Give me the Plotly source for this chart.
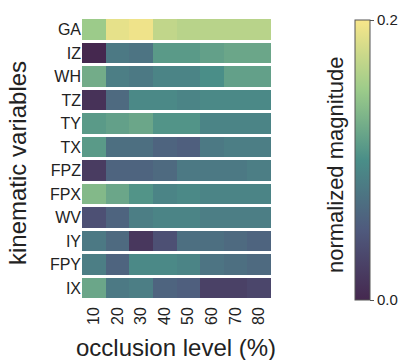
import plotly.graph_objects as go

variables = ["GA", "IZ", "WH", "TZ", "TY", "TX", "FPZ", "FPX", "WV", "IY", "FPY", "IX"]
occlusion = ["10", "20", "30", "40", "50", "60", "70", "80"]

GA = [0.15, 0.19, 0.195, 0.17, 0.165, 0.165, 0.165, 0.165]
IZ = [0.0, 0.08, 0.075, 0.11, 0.11, 0.115, 0.12, 0.12]
WH = [0.125, 0.085, 0.08, 0.09, 0.09, 0.1, 0.115, 0.115]
TZ = [0.01, 0.065, 0.095, 0.095, 0.09, 0.095, 0.095, 0.095]
TY = [0.11, 0.115, 0.12, 0.105, 0.105, 0.09, 0.09, 0.09]
TX = [0.11, 0.07, 0.07, 0.06, 0.055, 0.08, 0.085, 0.085]
FPZ = [0.02, 0.06, 0.06, 0.065, 0.08, 0.08, 0.08, 0.085]
FPX = [0.135, 0.12, 0.105, 0.09, 0.095, 0.09, 0.09, 0.09]
WV = [0.04, 0.06, 0.085, 0.09, 0.09, 0.085, 0.085, 0.085]
IY = [0.08, 0.065, 0.015, 0.04, 0.07, 0.07, 0.065, 0.06]
FPY = [0.085, 0.06, 0.095, 0.095, 0.09, 0.075, 0.07, 0.065]
IX = [0.12, 0.08, 0.085, 0.06, 0.055, 0.025, 0.025, 0.03]

z = [GA, IZ, WH, TZ, TY, TX, FPZ, FPX, WV, IY, FPY, IX]

colorscale = [
    [0.0, "#45284f"],
    [0.25, "#4f5a7d"],
    [0.5, "#4a8e88"],
    [0.75, "#9ccb8a"],
    [1.0, "#f8e68a"],
]

W, H = 401, 360
L, R, T, B = 82, 401 - 271, 18, 360 - 300
PW, PH = W - L - R, H - T - B


def px_x(x):
    return (x - L) / PW


def px_y(y):
    return 1 - (y - T) / PH


fig = go.Figure(go.Heatmap(
    z=z, x=occlusion, y=variables,
    zmin=0, zmax=0.2,
    colorscale=colorscale,
    ygap=3,
    colorbar=dict(
        x=px_x(355), xanchor="left", xpad=0, ypad=0,
        y=px_y(160), yanchor="middle",
        len=280, lenmode="pixels",
        thickness=15,
        outlinewidth=1, outlinecolor="#555555",
        tickvals=[0, 0.2], ticktext=["0.0", "0.2"],
        ticks="outside", ticklen=4, tickcolor="#555555",
        tickfont=dict(size=15, color="#222222"),
    ),
))

fig.update_layout(
    width=W, height=H,
    margin=dict(l=L, r=R, t=T, b=B, autoexpand=False),
    paper_bgcolor="white", plot_bgcolor="white",
    font=dict(family="Liberation Sans, Arial, sans-serif", color="#222222"),
    xaxis=dict(
        type="category", tickangle=-90, tickfont=dict(size=16),
        ticks="", showgrid=False, zeroline=False, automargin=False,
        ticklabelstandoff=3,
    ),
    yaxis=dict(
        type="category", autorange="reversed", tickfont=dict(size=16),
        ticks="", showgrid=False, zeroline=False, automargin=False,
    ),
    annotations=[
        dict(text="normalized magnitude", textangle=-90,
             x=px_x(335), y=px_y(165), xref="paper", yref="paper",
             xanchor="center", yanchor="middle",
             showarrow=False, font=dict(size=22, color="#222222")),
        dict(text="kinematic variables", textangle=-90,
             x=px_x(17), y=px_y(163), xref="paper", yref="paper",
             xanchor="center", yanchor="middle",
             showarrow=False, font=dict(size=24, color="#222222")),
        dict(text="occlusion level (%)",
             x=px_x(176), y=px_y(347), xref="paper", yref="paper",
             xanchor="center", yanchor="middle",
             showarrow=False, font=dict(size=24, color="#222222")),
    ],
)

fig.write_html(
    "out.html",
    config={"displayModeBar": False},
    post_script="document.body.style.margin='0';document.documentElement.style.overflow='hidden';document.body.style.overflow='hidden';",
)
